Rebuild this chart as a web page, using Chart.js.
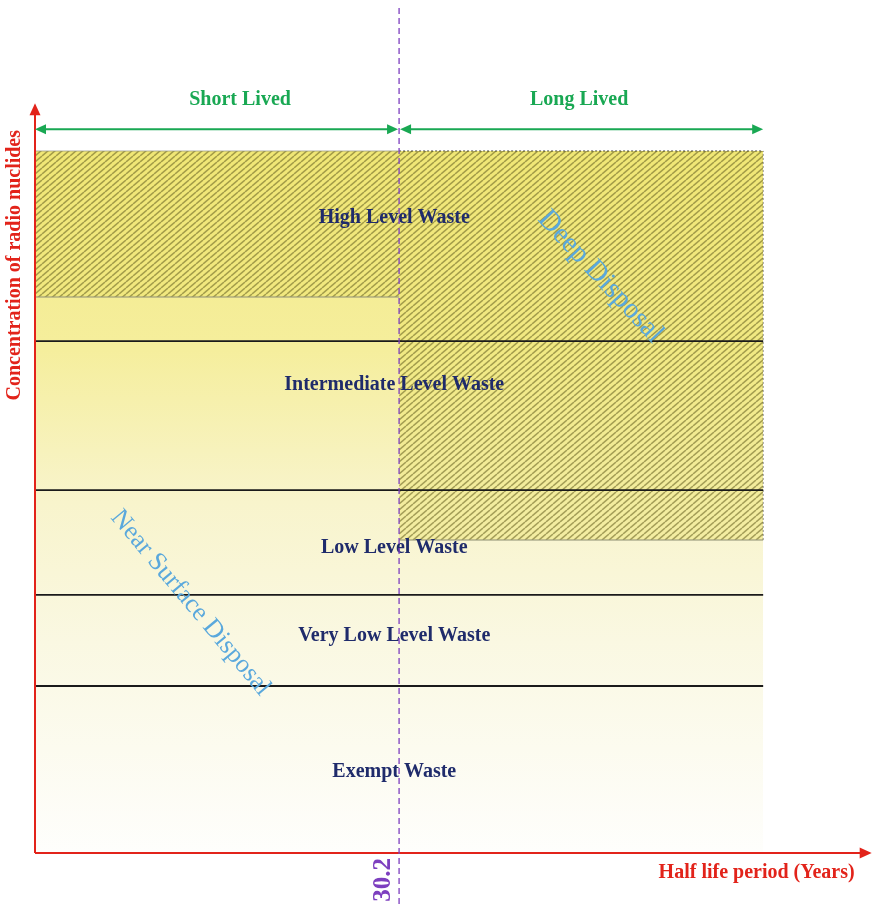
<!DOCTYPE html>
<html>
<head>
<meta charset="utf-8">
<script src="https://cdn.jsdelivr.net/npm/chart.js@4.4.0/dist/chart.umd.min.js"></script>
<style>
  body{margin:0;background:#fff;}
  canvas{display:block;}
</style>
</head>
<body>
<canvas id="chart" width="874" height="907"></canvas>
<script>
// waste classes, top to bottom
const levels=['High Level Waste','Intermediate Level Waste','Low Level Waste','Very Low Level Waste','Exempt Waste'];
const levelY=[87.9,64.7,42.2,30.1,11.2];
const levelX=29.8;

// class boundaries (concentration, arbitrary units)
const boundaries=[70.8,50.2,35.7,23.1];
const boxTop=97.1;

// half-life split
const halfLife=30.2;
const boxRight=60.4;
const halfLifeLabel='30.2';

// deep disposal hatch bottoms (short lived / long lived side)
const hatchShortBottom=76.9;
const hatchLongBottom=43.3;

const lifeLabels=['Short Lived','Long Lived'];
const disposalLabels=['Deep Disposal','Near Surface Disposal'];
const disposalPos=[{x:46.9,y:79.7,a:47},{x:12.9,y:34.6,a:50}];

const xTitle='Half life period (Years)';
const yTitle='Concentration of radio nuclides';
const axisXEnd=69.4;
const axisYEnd=103.7;

const serif='"Liberation Serif","Times New Roman",serif';

function makeHatch(){
    const w=7,h=6;
    const c=document.createElement('canvas');
    c.width=w;c.height=h;
    const g=c.getContext('2d');
    g.fillStyle='rgba(236,226,95,0.42)';
    g.fillRect(0,0,w,h);
    g.strokeStyle='rgba(110,105,40,0.6)';
    g.lineWidth=1.5;
    [-w,0,w].forEach(function(o){
        g.beginPath();
        g.moveTo(o,h);
        g.lineTo(o+w,0);
        g.stroke();
    });
    return g.createPattern(c,'repeat');
}
const hatch=makeHatch();

function zoneGradient(context){
    const area=context.chart.chartArea;
    if(!area) return '#f8f4c0';
    const ys=context.chart.scales.y;
    const top=ys.getPixelForValue(boxTop), bot=ys.getPixelForValue(0);
    const gr=context.chart.ctx.createLinearGradient(0,top,0,bot);
    gr.addColorStop(0,'#f3ea86');
    gr.addColorStop(0.28,'#f5ee9c');
    gr.addColorStop(0.5,'#f8f4cc');
    gr.addColorStop(0.7,'#faf8e2');
    gr.addColorStop(1,'#fefefc');
    return gr;
}

const datasets=[];
datasets.push({
    data:[{x:0,y:boxTop},{x:boxRight,y:boxTop}],
    fill:'origin',backgroundColor:zoneGradient,borderWidth:0,pointRadius:0,order:10
});
datasets.push({
    data:[{x:0,y:boxTop},{x:halfLife,y:boxTop}],
    fill:{value:hatchShortBottom},backgroundColor:hatch,borderColor:'rgba(150,150,130,0.5)',borderWidth:1.5,pointRadius:0,order:8
});
datasets.push({
    data:[{x:halfLife,y:boxTop},{x:boxRight,y:boxTop}],
    fill:{value:hatchLongBottom},backgroundColor:hatch,borderColor:'rgba(60,60,50,0.8)',borderDash:[2,2],borderWidth:1.2,pointRadius:0,order:8
});
// lower edges of the hatched area
datasets.push({
    data:[{x:0,y:hatchShortBottom},{x:halfLife,y:hatchShortBottom}],
    fill:false,borderColor:'rgba(150,150,120,0.55)',borderWidth:2,pointRadius:0,order:7
});
datasets.push({
    data:[{x:halfLife,y:hatchLongBottom},{x:boxRight,y:hatchLongBottom}],
    fill:false,borderColor:'rgba(150,150,120,0.55)',borderWidth:2,pointRadius:0,order:7
});
datasets.push({
    data:[{x:boxRight,y:hatchLongBottom},{x:boxRight,y:boxTop}],
    fill:false,borderColor:'rgba(60,60,50,0.6)',borderDash:[2,2],borderWidth:1,pointRadius:0,order:7
});
boundaries.forEach(function(b){
    datasets.push({
        data:[{x:0,y:b},{x:boxRight,y:b}],
        fill:false,borderColor:'#1a1a1a',borderWidth:1.8,pointRadius:0,order:1
    });
});

function arrowHead(ctx,x,y,dx,dy,len,half){
    // dx,dy unit direction the head points to
    ctx.beginPath();
    ctx.moveTo(x,y);
    ctx.lineTo(x-dx*len-dy*half,y-dy*len+dx*half);
    ctx.lineTo(x-dx*len+dy*half,y-dy*len-dx*half);
    ctx.closePath();
    ctx.fill();
}

const decorations={
    id:'decorations',
    afterDatasetsDraw(chart){
        const ctx=chart.ctx;
        const xs=chart.scales.x, ys=chart.scales.y;
        const x0=xs.getPixelForValue(0), y0=ys.getPixelForValue(0);
        ctx.save();

        // disposal labels
        ctx.fillStyle='#5aa8dc';
        ctx.textAlign='center';ctx.textBaseline='middle';
        [29,26].forEach(function(sz,i){
            const p=disposalPos[i];
            ctx.save();
            ctx.translate(xs.getPixelForValue(p.x),ys.getPixelForValue(p.y));
            ctx.rotate(p.a*Math.PI/180);
            ctx.font=sz+'px '+serif;
            ctx.fillText(disposalLabels[i],0,0);
            ctx.restore();
        });

        // level names
        ctx.fillStyle='#1f2b6b';
        ctx.font='bold 20px '+serif;
        levels.forEach(function(l,i){
            ctx.fillText(l,xs.getPixelForValue(levelX),ys.getPixelForValue(levelY[i]));
        });

        // axes
        ctx.strokeStyle='#e2231a';ctx.fillStyle='#e2231a';ctx.lineWidth=2;
        const xe=xs.getPixelForValue(axisXEnd), ye=ys.getPixelForValue(axisYEnd);
        ctx.beginPath();
        ctx.moveTo(x0,y0);ctx.lineTo(xe-8,y0);
        ctx.moveTo(x0,y0);ctx.lineTo(x0,ye+8);
        ctx.stroke();
        arrowHead(ctx,xe,y0,1,0,12,5.5);
        arrowHead(ctx,x0,ye,0,-1,12,5.5);

        ctx.font='bold 20px '+serif;
        ctx.textAlign='right';ctx.textBaseline='middle';
        ctx.fillText(xTitle,xs.getPixelForValue(axisXEnd)-17,y0+20);
        ctx.save();
        ctx.translate(x0-20,ys.getPixelForValue(boxTop)-21);
        ctx.rotate(-Math.PI/2);
        ctx.textAlign='right';
        ctx.fillText(yTitle,0,0);
        ctx.restore();

        // short / long lived arrows
        const yA=ys.getPixelForValue(100.1);
        const xm=xs.getPixelForValue(halfLife), xr=xs.getPixelForValue(boxRight);
        ctx.strokeStyle='#19a853';ctx.fillStyle='#19a853';ctx.lineWidth=2;
        ctx.beginPath();
        ctx.moveTo(x0+8,yA);ctx.lineTo(xm-8,yA);
        ctx.moveTo(xm+8,yA);ctx.lineTo(xr-8,yA);
        ctx.stroke();
        arrowHead(ctx,x0,yA,-1,0,11,5);
        arrowHead(ctx,xm-1,yA,1,0,11,5);
        arrowHead(ctx,xm+1,yA,-1,0,11,5);
        arrowHead(ctx,xr,yA,1,0,11,5);
        ctx.font='bold 20px '+serif;
        ctx.textAlign='center';
        const yL=ys.getPixelForValue(104.2);
        ctx.fillText(lifeLabels[0],(x0+xm)/2+23,yL);
        ctx.fillText(lifeLabels[1],(xm+xr)/2-2,yL);

        // half-life divider
        ctx.strokeStyle='#7d3fbf';ctx.lineWidth=1.3;
        ctx.setLineDash([6,4]);
        ctx.beginPath();
        ctx.moveTo(xm,8);ctx.lineTo(xm,chart.height);
        ctx.stroke();
        ctx.setLineDash([]);
        ctx.fillStyle='#7d3fbf';
        ctx.font='bold 25px '+serif;
        ctx.save();
        ctx.translate(xm-16,y0+5);
        ctx.rotate(-Math.PI/2);
        ctx.textAlign='right';ctx.textBaseline='middle';
        ctx.fillText(halfLifeLabel,0,0);
        ctx.restore();

        ctx.restore();
    }
};

new Chart(document.getElementById('chart'),{
    type:'line',
    data:{datasets:datasets},
    options:{
        responsive:false,
        animation:false,
        layout:{padding:{left:35,right:18,top:130,bottom:54}},
        plugins:{legend:{display:false},tooltip:{enabled:false}},
        scales:{
            x:{type:'linear',min:0,max:68.1,display:false},
            y:{type:'linear',min:0,max:100,display:false}
        }
    },
    plugins:[decorations]
});
</script>
</body>
</html>
